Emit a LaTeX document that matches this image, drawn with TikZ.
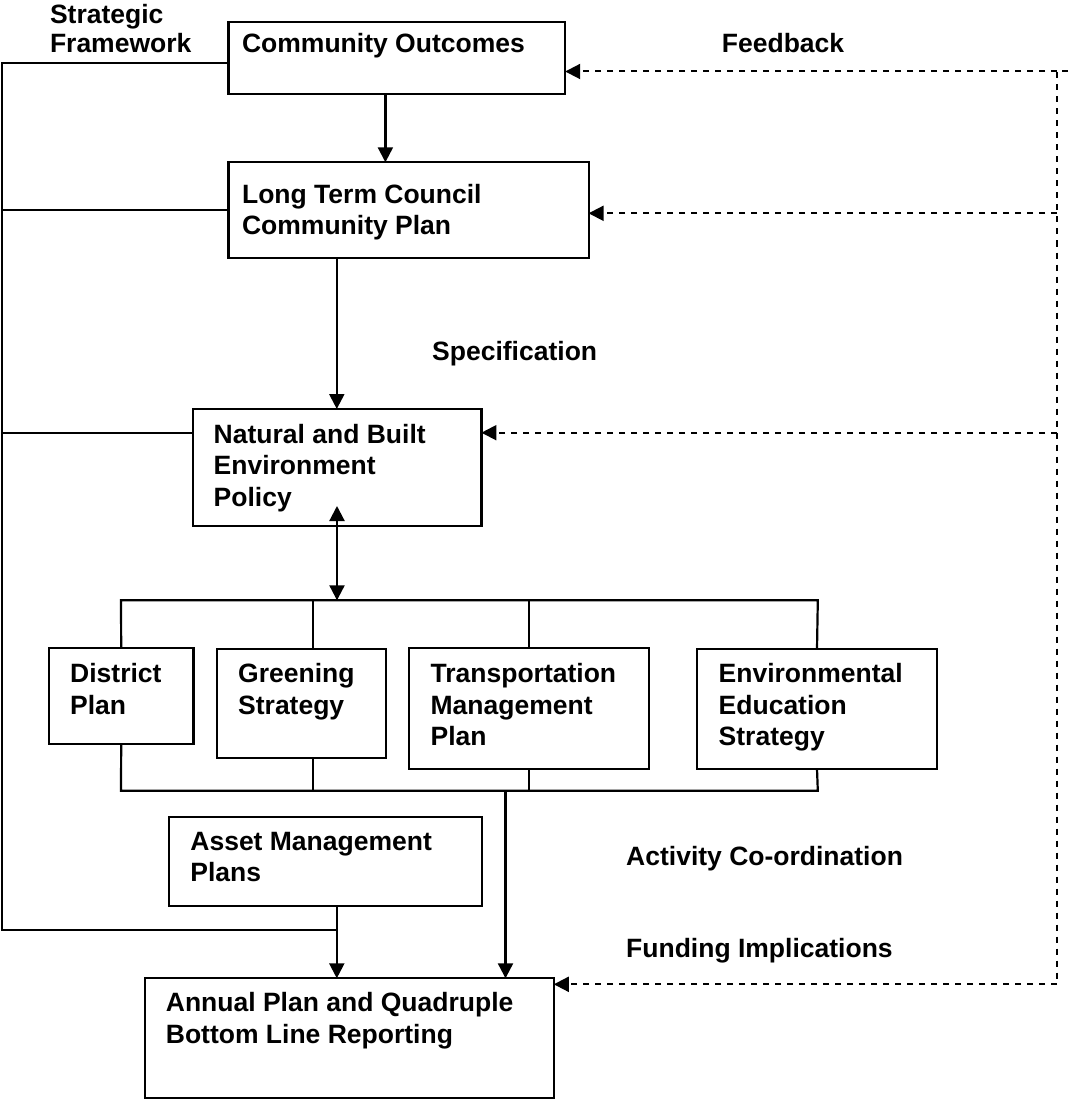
\documentclass[tikz,border=0pt]{standalone}
\usepackage{fontspec}
\setmainfont{Liberation Sans}
\usetikzlibrary{arrows.meta}
\begin{document}
\begin{tikzpicture}[x=1pt,y=-1pt,
  box/.style={draw, line width=2.2pt, inner sep=0pt, outer sep=0pt, anchor=north west},
  lbl/.style={anchor=base west, inner sep=0pt, font=\bfseries\fontsize{26.5pt}{31.6pt}\selectfont},
  ln/.style={line width=2.2pt},
  arr/.style={line width=2.2pt, -{Triangle[length=15pt,width=15pt]}},
  darr/.style={line width=2.2pt, {Triangle[length=15pt,width=15pt]}-{Triangle[length=15pt,width=15pt]}},
  fbl/.style={line width=2pt, dash pattern=on 6pt off 6pt},
  fb/.style={fbl, -{Triangle[length=15pt,width=15pt]}}]
\useasboundingbox (0,0) rectangle (1068,1099);

% boxes
\node[box, minimum width=336.7pt, minimum height=72pt]    (co)        at (228.5,21.7) {};
\node[box, minimum width=360.1pt, minimum height=96pt]    (lt)        at (228.5,162.3) {};
\node[box, minimum width=288.2pt, minimum height=117.3pt] (nbe)       at (193.2,409) {};
\node[box, minimum width=144.6pt, minimum height=96pt]    (district)  at (48.9,648.3) {};
\node[box, minimum width=168.7pt, minimum height=109.3pt] (greening)  at (217,649) {};
\node[box, minimum width=240.6pt, minimum height=120.7pt] (transport) at (408.7,648.3) {};
\node[box, minimum width=240.6pt, minimum height=120pt]   (env)       at (696.7,649) {};
\node[box, minimum width=313pt,   minimum height=89.3pt]  (amp)       at (168.8,816.7) {};
\node[box, minimum width=408.8pt, minimum height=119.4pt] (annual)    at (145,978.3) {};

% texts
\node[lbl] (sf1) at (49.8,23.3) {Strategic};
\node[lbl] (sf2) at (49.8,52.7) {Framework};
\node[lbl] (cot) at (241.9,52.7) {Community Outcomes};
\node[lbl] (fbt) at (721.7,52.7) {Feedback};
\node[lbl] (lt1) at (241.9,203.3) {Long Term Council};
\node[lbl] (lt2) at (241.9,235) {Community Plan};
\node[lbl] (spec) at (432,360) {Specification};
\node[lbl] (nb1) at (213.5,443) {Natural and Built};
\node[lbl] (nb2) at (213.5,474.6) {Environment};
\node[lbl] (nb3) at (213.5,506) {Policy};
\node[lbl] (dp1) at (70,682.7) {District};
\node[lbl] (dp2) at (70,714.3) {Plan};
\node[lbl] (gs1) at (238,682.7) {Greening};
\node[lbl] (gs2) at (238,714.3) {Strategy};
\node[lbl] (tm1) at (430.4,682.7) {Transportation};
\node[lbl] (tm2) at (430.4,714.3) {Management};
\node[lbl] (tm3) at (430.4,745.9) {Plan};
\node[lbl] (ee1) at (718.5,682.7) {Environmental};
\node[lbl] (ee2) at (718.5,714.3) {Education};
\node[lbl] (ee3) at (718.5,745.9) {Strategy};
\node[lbl] (am1) at (190.2,850) {Asset Management};
\node[lbl] (am2) at (190.2,881.7) {Plans};
\node[lbl] (act) at (626,865.7) {Activity Co-ordination};
\node[lbl] (fun) at (626,957.7) {Funding Implications};
\node[lbl] (an1) at (165.7,1011.7) {Annual Plan and Quadruple};
\node[lbl] (an2) at (165.7,1043.3) {Bottom Line Reporting};

% strategic framework lines
\coordinate (sfA) at (2,63.3);
\coordinate (sfB) at (2,210);
\coordinate (sfC) at (2,432.7);
\coordinate (sfD) at (2,930.3);
\coordinate (x1) at (385.4,0);
\coordinate (x2) at (336.8,0);
\coordinate (x3) at (505.5,0);
\coordinate (gX) at (313,0);
\draw[ln] (co.west |- sfA) -- (sfA) -- (sfD) -- (sfD -| x2);
\draw[ln] (sfB) -- (sfB -| lt.west);
\draw[ln] (sfC) -- (sfC -| nbe.west);

% main flow
\draw[arr] (co.south -| x1) -- (lt.north -| x1);
\draw[arr] (lt.south -| x2) -- (nbe.north -| x2);
\coordinate (dblTip) at (337,506);
\coordinate (busTL) at (121,600.3);
\coordinate (busTR) at (817.8,600.3);
\draw[darr] (dblTip) -- (busTL -| dblTip);
\draw[ln] (district.north) -- (busTL) -- (busTR) -- (env.north);
\draw[ln] (greening.north -| gX) -- (busTL -| gX);
\draw[ln] (transport.north) -- (busTL -| transport.north);

\coordinate (busBL) at (121,790.7);
\coordinate (busBR) at (817.8,790.7);
\draw[ln] (district.south) -- (busBL) -- (busBR) -- (env.south);
\draw[ln] (greening.south -| gX) -- (busBL -| gX);
\draw[ln] (transport.south) -- (busBL -| transport.south);
\draw[arr] (busBL -| x3) -- (annual.north -| x3);
\draw[arr] (amp.south -| x2) -- (annual.north -| x2);

% feedback
\coordinate (fbEnd) at (1068,71.5);
\coordinate (fb1) at (1057,71.5);
\coordinate (fb2) at (1057,213.3);
\coordinate (fb3) at (1057,432.7);
\coordinate (fb4) at (1057,984.3);
\draw[fbl] (fbEnd) -- (fb1) -- (fb4);
\draw[fb] (fb1) -- (fb1 -| co.east);
\draw[fb] (fb2) -- (fb2 -| lt.east);
\draw[fb] (fb3) -- (fb3 -| nbe.east);
\draw[fb] (fb4) -- (fb4 -| annual.east);
\end{tikzpicture}
\end{document}
